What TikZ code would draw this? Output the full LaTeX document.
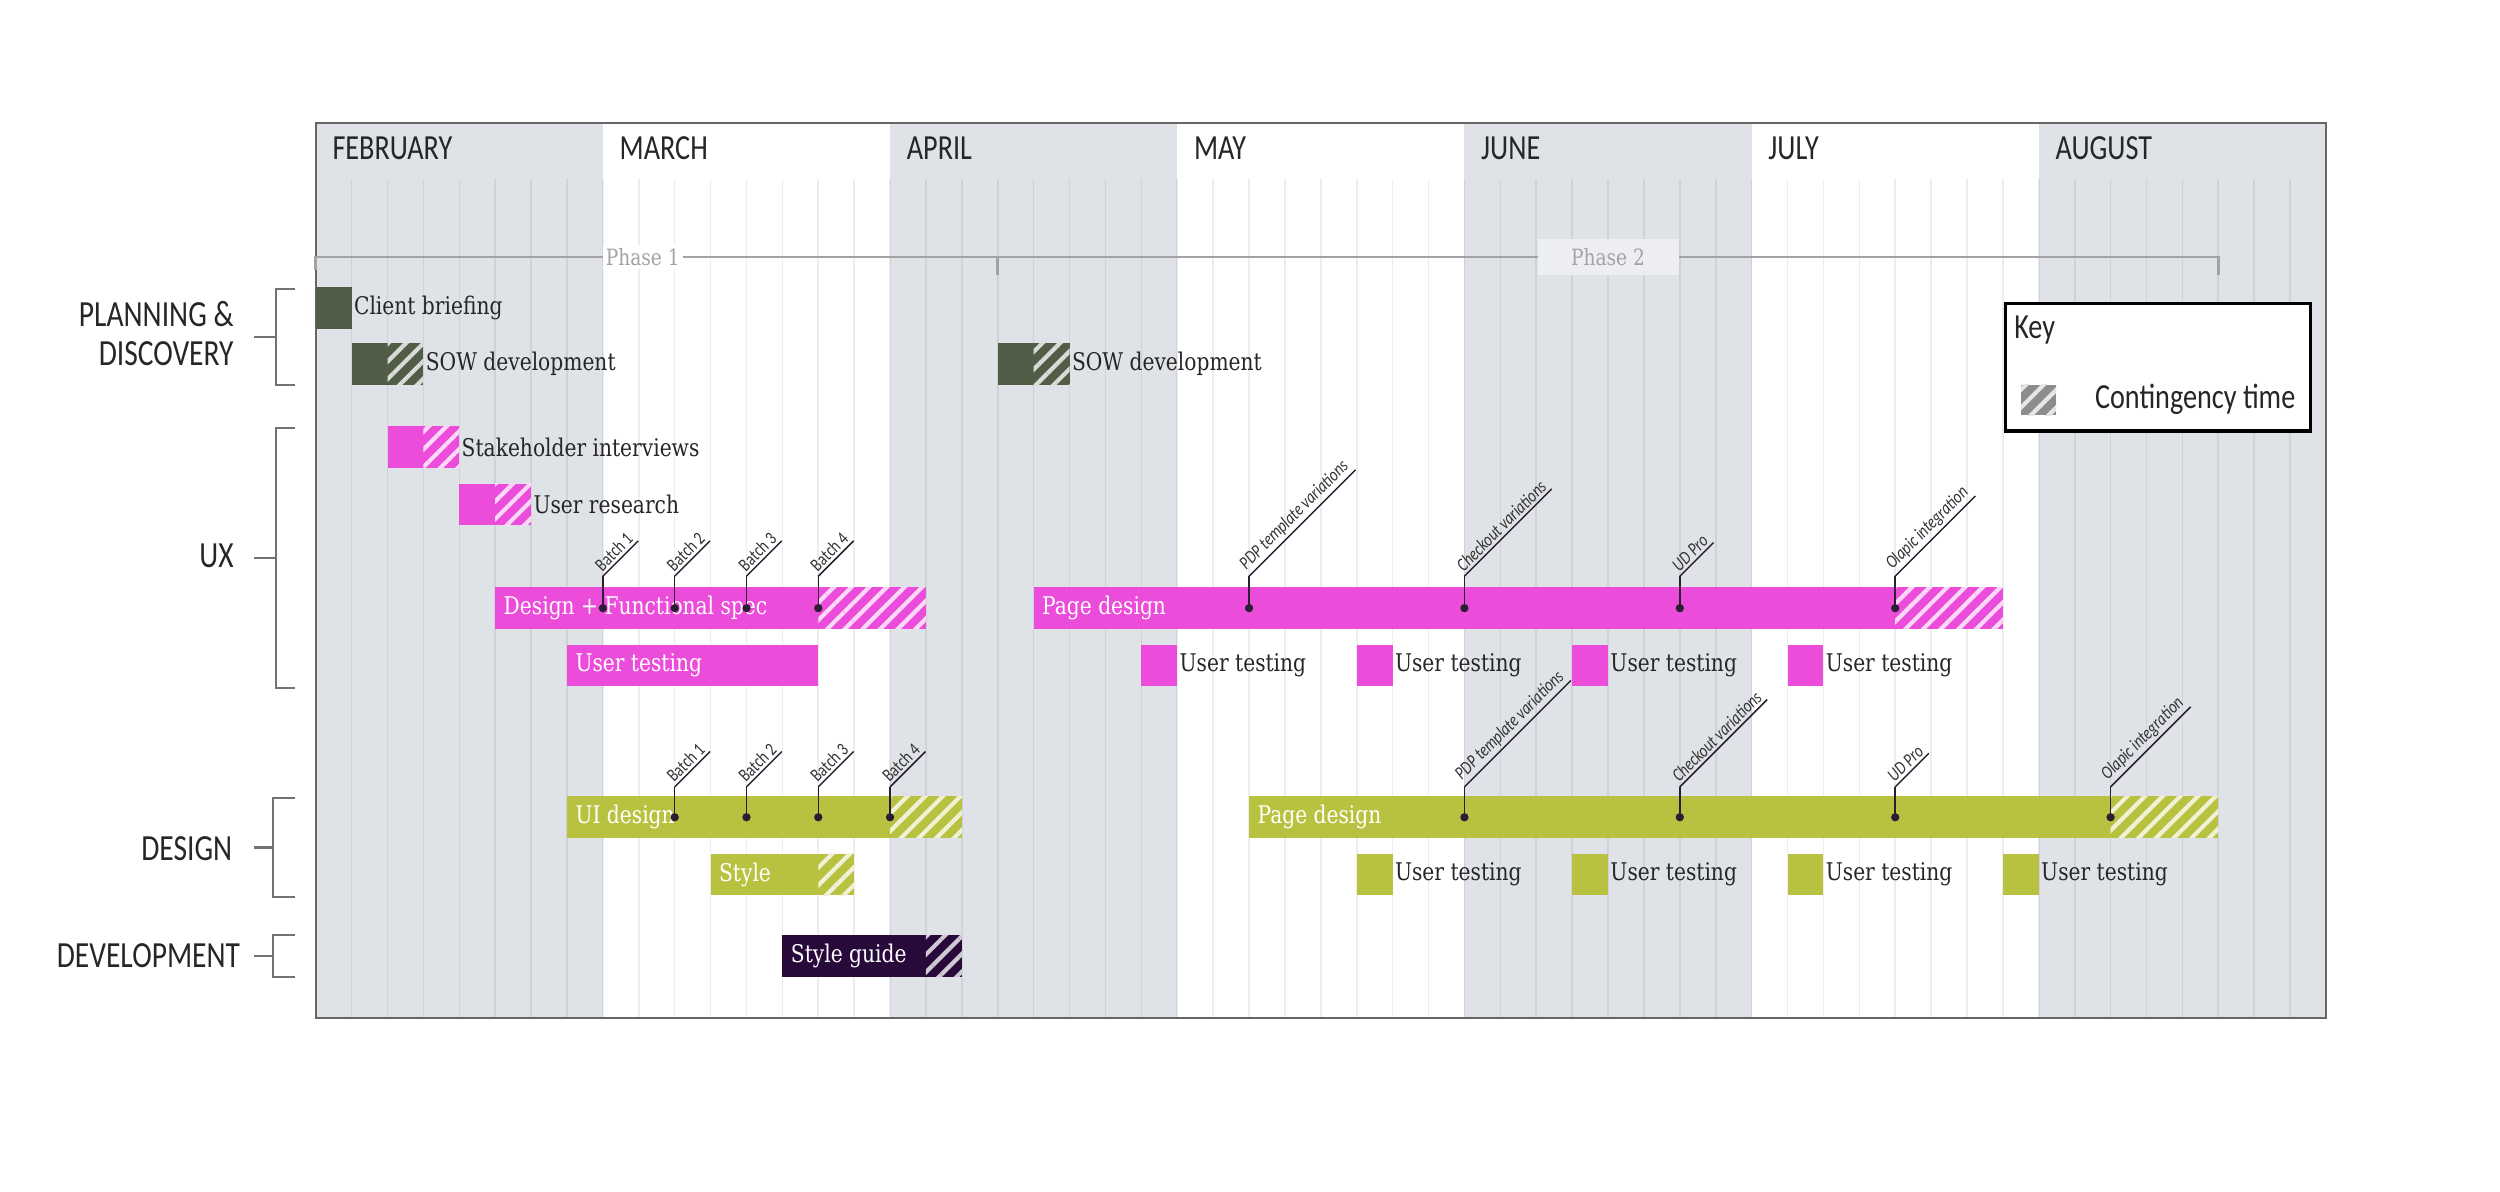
\documentclass[tikz,border=0pt]{standalone}
\usepackage{fontspec}
\usetikzlibrary{patterns.meta}
\newfontfamily\headfont[FakeStretch=0.8]{Carlito}
\newfontfamily\slabfont[FakeStretch=0.83]{DejaVu Serif}
\definecolor{colgray}{HTML}{DFE3E7}
\definecolor{planolive}{HTML}{525D48}
\definecolor{uxpink}{HTML}{EC4CDA}
\definecolor{designlime}{HTML}{B9C240}
\definecolor{devplum}{HTML}{27093A}
\definecolor{keygray}{HTML}{8C8C8C}
\definecolor{phasegray}{HTML}{A3A3A3}
\definecolor{markdark}{HTML}{2B1E33}

\begin{document}
\begin{tikzpicture}[x=11.2pt, y=-0.498pt,
    month/.style={anchor=west, inner sep=0pt, font=\headfont\fontsize{11}{13}\selectfont, text=black!85},
    group/.style={anchor=east, align=right, inner sep=0pt, font=\headfont\fontsize{11.5}{12}\selectfont, text=black!85},
    bracket/.style={draw=black!55, line width=0.7pt},
    gridline/.style={draw=black, draw opacity=0.07, line width=0.5pt},
    task/.style={anchor=west, inner sep=0pt, font=\slabfont\fontsize{7.6}{9}\selectfont, text=black!85},
    intask/.style={task, text=white},
    spare/.style={fill=#1, postaction={pattern={Lines[angle=45,distance=3.9pt,line width=1.3pt]}, pattern color=#1!22!white}},
    mline/.style={draw=markdark, line width=0.45pt},
    mlabel/.style={rotate=45, anchor=south west, inner xsep=0.6pt, inner ysep=0.8pt, font=\headfont\fontsize{5.8}{6}\selectfont, text=black!80},
    phase/.style={draw=phasegray, line width=0.9pt},
    phaselbl/.style={font=\slabfont\fontsize{7}{8}\selectfont, text=phasegray, inner sep=1pt}]
\useasboundingbox (-8.795,0) rectangle (60.848,746.2);

% months and weeks
\foreach \m/\name in {0/FEBRUARY,1/MARCH,2/APRIL,3/MAY,4/JUNE,5/JULY,6/AUGUST}{
  \ifodd\m\else\fill[colgray] (8*\m,77) rectangle (8*\m+8,638);\fi
  \node[month] (mon\m) at (8*\m+0.45,93) {\name};
}
\foreach \k in {1,...,55}
  \draw[gridline] (\k,112) -- (\k,638);
\draw[draw=black!60, line width=0.6pt] (0,77) rectangle (56,638);

% phases
\draw[phase] (0,169) -- (0,161) -- (53,161) -- (53,172);
\draw[phase] (19,161) -- (19,172);
\node[phaselbl, fill=white] (ph1) at (9.11,161) {Phase 1};
\node[phaselbl, fill=colgray!60!white, minimum width=44pt, minimum height=11pt] (ph2) at (36,161) {Phase 2};

% groups
\node[group] (gplan) at (-2.27,209) {PLANNING \&\\DISCOVERY};
\node[group] (gux) at (-2.27,348) {UX};
\node[group] (gdes) at (-2.31,532) {DESIGN};
\node[group] (gdev) at (-2.09,599) {DEVELOPMENT};
\foreach \xb/\ya/\yb in {-1.11/181/241,-1.11/268/431,-1.2/500/562,-1.2/586/612}{
  \draw[bracket] (-0.58,\ya) -- (\xb,\ya) -- (\xb,\yb) -- (-0.58,\yb);
  \draw[bracket] (\xb,{(\ya+\yb)/2}) -- (-1.73,{(\ya+\yb)/2});
}

% planning
\fill[planolive] (0,180) rectangle (1,206);
\node[task] (cb) at (1.05,193) {Client briefing};
\fill[planolive] (1,215) rectangle (2,241);
\path[spare=planolive] (2,215) rectangle (3,241);
\node[task] (sow) at (3.05,228) {SOW development};
\fill[planolive] (19,215) rectangle (20,241);
\path[spare=planolive] (20,215) rectangle (21,241);
\node[task] (sow2) at (21.05,228) {SOW development};

% ux
\fill[uxpink] (2,267) rectangle (3,293);
\path[spare=uxpink] (3,267) rectangle (4,293);
\node[task] (shi) at (4.05,280) {Stakeholder interviews};
\fill[uxpink] (4,303) rectangle (5,329);
\path[spare=uxpink] (5,303) rectangle (6,329);
\node[task] (ures) at (6.05,316) {User research};
\fill[uxpink] (5,368) rectangle (14,394);
\path[spare=uxpink] (14,368) rectangle (17,394);
\node[intask] (dfs) at (5.22,381) {Design + Functional spec};
\fill[uxpink] (7,404) rectangle (14,430);
\node[intask] (uxut) at (7.22,417) {User testing};
\fill[uxpink] (20,368) rectangle (44,394);
\path[spare=uxpink] (44,368) rectangle (47,394);
\node[intask] (uxpd) at (20.22,381) {Page design};
\foreach \k [count=\i] in {23,29,35,41}{
  \fill[uxpink] (\k,404) rectangle (\k+1,430);
  \node[task] (uxt\i) at (\k+1.05,417) {User testing};
}

% design
\fill[designlime] (7,499) rectangle (16,525);
\path[spare=designlime] (16,499) rectangle (18,525);
\node[intask] (uid) at (7.22,512) {UI design};
\fill[designlime] (11,535) rectangle (14,561);
\path[spare=designlime] (14,535) rectangle (15,561);
\node[intask] (sty) at (11.22,548) {Style};
\fill[designlime] (26,499) rectangle (50,525);
\path[spare=designlime] (50,499) rectangle (53,525);
\node[intask] (dpd) at (26.22,512) {Page design};
\foreach \k [count=\i] in {29,35,41,47}{
  \fill[designlime] (\k,535) rectangle (\k+1,561);
  \node[task] (dt\i) at (\k+1.05,548) {User testing};
}

% development
\fill[devplum] (13,586) rectangle (17,612);
\path[spare=devplum] (17,586) rectangle (18,612);
\node[intask] (sg) at (13.22,599) {Style guide};

% milestones
\foreach \k/\txt [count=\i] in {8/Batch 1,10/Batch 2,12/Batch 3,14/Batch 4,26/{\itshape PDP template variations},32/{\itshape Checkout variations},38/{\itshape UD Pro},44/{\itshape Olapic integration}}{
  \coordinate (uxm\i) at (\k,361);
  \draw[mline] (\k,381) -- (uxm\i);
  \fill[markdark] (\k,381) circle (1.3pt);
  \node[mlabel] (uxl\i) at (uxm\i) {\txt};
  \draw[mline] (uxl\i.south west) -- (uxl\i.south east);
}
\foreach \k/\txt [count=\i] in {10/Batch 1,12/Batch 2,14/Batch 3,16/Batch 4,32/{\itshape PDP template variations},38/{\itshape Checkout variations},44/{\itshape UD Pro},50/{\itshape Olapic integration}}{
  \coordinate (dm\i) at (\k,493);
  \draw[mline] (\k,512) -- (dm\i);
  \fill[markdark] (\k,512) circle (1.3pt);
  \node[mlabel] (dl\i) at (dm\i) {\txt};
  \draw[mline] (dl\i.south west) -- (dl\i.south east);
}

% key
\draw[draw=black, line width=1pt, fill=white] (47.07,190) rectangle (55.56,270);
\node[month] (keyt) at (47.3,207) {Key};
\path[spare=keygray] (47.51,241) rectangle (48.49,260);
\node[month] (keyc) at (49.55,250) {Contingency time};
\end{tikzpicture}
\end{document}
